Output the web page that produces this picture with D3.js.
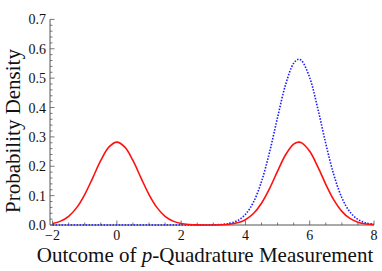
<!DOCTYPE html>
<html>
<head>
<meta charset="utf-8">
<script src="https://cdn.jsdelivr.net/npm/d3@7"></script>
<style>
  body { margin: 0; background: #fff; }
  svg { display: block; }
  text { font-family: "Liberation Serif", "DejaVu Serif", serif; fill: #111; }
</style>
</head>
<body>
<svg id="chart" width="382" height="271"></svg>
<script>
// sample points along p
var pValues = [-2, -1.75, -1.5, -1.25, -1, -0.75, -0.5, -0.25, 0, 0.25, 0.5, 0.75, 1, 1.25, 1.5, 1.75,
    2, 2.25, 2.5, 2.75, 3, 3.25, 3.5, 3.75, 4, 4.25, 4.5, 4.75, 5, 5.25, 5.5, 5.65, 5.75, 6, 6.25,
    6.5, 6.75, 7, 7.25, 7.5, 7.75, 8];
// red solid curve (two peaks)
var redDensity = [0.0052, 0.0132, 0.0297, 0.0591, 0.1038, 0.1607, 0.2197, 0.2650, 0.2821, 0.2650, 0.2197,
    0.1607, 0.1038, 0.0591, 0.0297, 0.0132, 0.0052, 0.0018, 0.0005, 0.0001, 0.0002, 0.0009, 0.0027,
    0.0074, 0.0181, 0.0390, 0.0740, 0.1239, 0.1832, 0.2391, 0.2752, 0.2821, 0.2797, 0.2508, 0.1985,
    0.1386, 0.0854, 0.0465, 0.0223, 0.0095, 0.0035, 0.0012];
// blue dotted curve (single peak)
var blueDensity = [0, 0, 0, 0, 0, 0, 0, 0, 0, 0, 0, 0, 0, 0, 0, 0,
    0, 0, 0, 0.0001, 0.0005, 0.0017, 0.0054, 0.0148, 0.0362, 0.0779, 0.1479, 0.2478, 0.3664, 0.4781,
    0.5505, 0.5642, 0.5593, 0.5016, 0.3970, 0.2772, 0.1708, 0.0929, 0.0446, 0.0189, 0.0071, 0.0023];

var xTicks = [-2, 0, 2, 4, 6, 8];
var yTicks = [0.0, 0.1, 0.2, 0.3, 0.4, 0.5, 0.6, 0.7];

var svg = d3.select('#chart');

var x = d3.scaleLinear().domain([-2.08, 8]).range([50, 374]);
var y = d3.scaleLinear().domain([0, 0.7]).range([225, 19.4]);

var axisColor = '#555';

// y axis: ticks point inward (to the right)
var yAxis = svg.append('g').attr('transform', 'translate(' + x.range()[0] + ',0)');
yAxis.append('line')
    .attr('y1', y(0)).attr('y2', y(0.7))
    .style('stroke', axisColor).style('stroke-width', '1px');
yAxis.selectAll('.minor')
    .data(d3.range(0, 36).map(function(i) { return i * 0.02; }))
    .enter().append('line')
    .attr('x1', 0).attr('x2', function(d, i) { return i % 5 === 0 ? 4.5 : 2.5; })
    .attr('y1', function(d) { return y(d); }).attr('y2', function(d) { return y(d); })
    .style('stroke', axisColor).style('stroke-width', '0.8px');
yAxis.selectAll('.lbl')
    .data(yTicks)
    .enter().append('text')
    .attr('x', -4)
    .attr('y', function(d) { return y(d) + 5; })
    .text(function(d) { return d.toFixed(1); })
    .style('font-size', '14px')
    .style('text-anchor', 'end');

// x axis: ticks point up
var xAxis = svg.append('g').attr('transform', 'translate(0,' + y(0) + ')');
xAxis.append('line')
    .attr('x1', x.range()[0]).attr('x2', x(8))
    .style('stroke', axisColor).style('stroke-width', '1px');
xAxis.selectAll('.minor')
    .data(d3.range(0, 21).map(function(i) { return -2 + i * 0.5; }))
    .enter().append('line')
    .attr('x1', function(d) { return x(d); }).attr('x2', function(d) { return x(d); })
    .attr('y1', 0).attr('y2', function(d, i) { return i % 4 === 0 ? -4.5 : -2.5; })
    .style('stroke', axisColor).style('stroke-width', '0.8px');
xAxis.selectAll('.lbl')
    .data(xTicks)
    .enter().append('text')
    .attr('x', function(d) { return x(d); })
    .attr('y', 15)
    .text(function(d) { return d < 0 ? '\u2212' + Math.abs(d) : d; })
    .style('font-size', '14px')
    .style('text-anchor', 'middle');

// curves
var line = d3.line()
    .x(function(d) { return x(d[0]); })
    .y(function(d) { return y(d[1]); })
    .curve(d3.curveCatmullRom);

svg.append('path')
    .attr('d', line(d3.zip(pValues, blueDensity)))
    .style('fill', 'none')
    .style('stroke', '#1a1aff')
    .style('stroke-width', '1.6px')
    .style('stroke-dasharray', '1.5,1.5');

svg.append('path')
    .attr('d', line(d3.zip(pValues, redDensity)))
    .style('fill', 'none')
    .style('stroke', '#ff1010')
    .style('stroke-width', '1.6px');

// axis titles
var xTitle = svg.append('text')
    .attr('x', 205)
    .attr('y', 262)
    .style('font-size', '21px')
    .style('text-anchor', 'middle');
xTitle.append('tspan').text('Outcome of ');
xTitle.append('tspan').text('p').style('font-style', 'italic');
xTitle.append('tspan').text('-Quadrature Measurement');

svg.append('text')
    .attr('transform', 'translate(20,131) rotate(-90)')
    .text('Probability Density')
    .style('font-size', '21px')
    .style('text-anchor', 'middle');
</script>
</body>
</html>
